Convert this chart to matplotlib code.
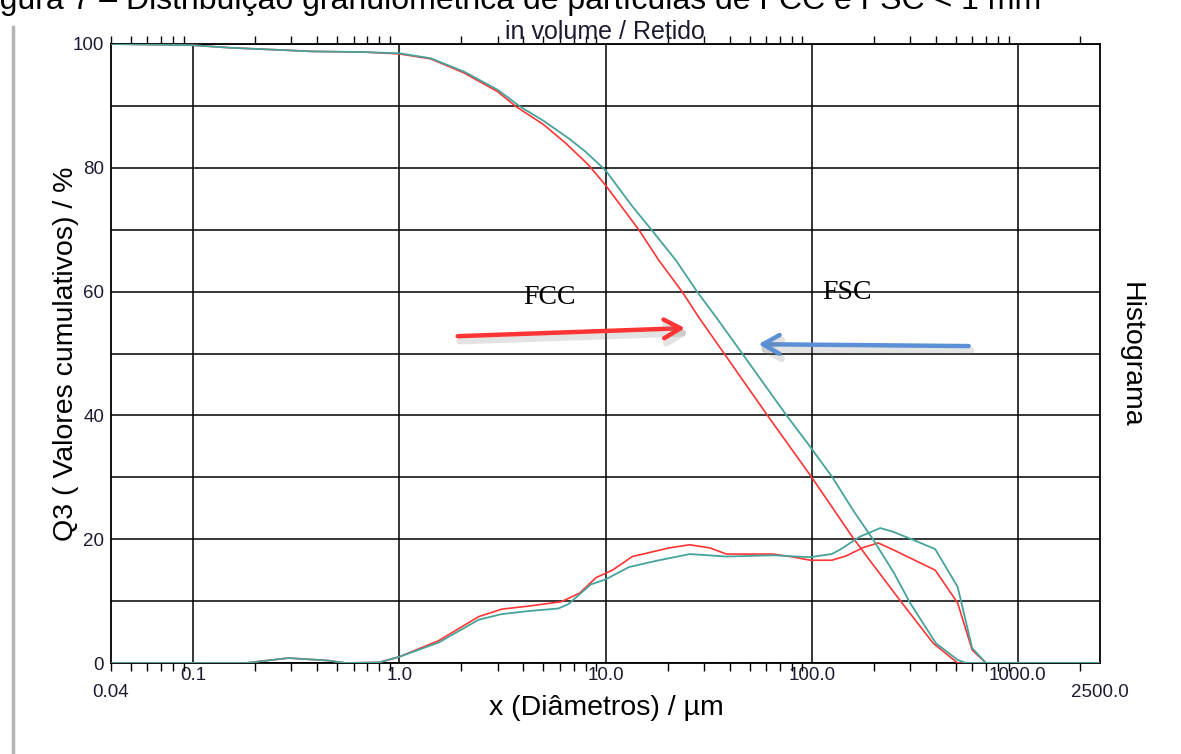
"""Distribuição granulométrica FCC x FSC (curva acumulada retida + histograma)."""

import matplotlib

matplotlib.use("Agg")
import matplotlib.pyplot as plt
import matplotlib.patheffects as pe
from matplotlib.lines import Line2D
from matplotlib.ticker import FixedLocator, LogLocator, NullFormatter
import matplotlib.transforms as mtransforms

# ---- data ------------------------------------------------------------------
cum_x_fcc = [0.04, 0.1, 0.15, 0.38, 0.67, 1.0, 1.42, 2.07, 3.0, 3.68, 5.0, 6.4,
             8.25, 10, 14.5, 18.1, 23.5, 28.4, 37.6, 61, 100, 158, 191, 274,
             388, 510, 2500]
cum_fcc = [100, 99.8, 99.4, 98.8, 98.7, 98.4, 97.6, 95.3, 92.3, 89.9, 87.0,
           84.0, 80.5, 77.2, 70.0, 65.1, 60.0, 55.8, 50.0, 40.0, 30.0, 20.3,
           16.6, 9.7, 3.2, 0, 0]

cum_x_fsc = [0.04, 0.1, 0.15, 0.38, 0.67, 1.0, 1.42, 2.07, 3.0, 3.85, 5.0, 6.6,
             8.0, 10, 13.4, 16.7, 21.9, 27.8, 34.5, 46, 75.5, 98, 126, 160, 198,
             250, 300, 400, 510, 560, 2500]
cum_fsc = [100, 99.8, 99.4, 98.8, 98.7, 98.5, 97.7, 95.5, 92.6, 89.9, 87.6,
           84.8, 82.6, 79.6, 73.9, 70.0, 65.1, 60.0, 55.8, 50.0, 40.0, 35.0,
           30.0, 24.5, 20.0, 14.6, 9.7, 3.2, 0.5, 0, 0]

hist_x_fcc = [0.04, 0.18, 0.29, 0.45, 0.55, 0.8, 1.0, 1.55, 2.43, 3.14, 4.25,
              6.1, 7.5, 9.0, 10.8, 13.5, 20.4, 25.6, 32, 38.6, 65, 82, 98.5,
              125, 147, 176, 210, 248, 397, 510, 600, 700, 2500]
hist_fcc = [0, 0, 0.8, 0.4, 0, 0.1, 1.0, 3.6, 7.5, 8.7, 9.2, 9.9, 11.3, 13.8,
            15.0, 17.2, 18.6, 19.1, 18.6, 17.6, 17.6, 17.1, 16.6, 16.6, 17.3,
            18.6, 19.4, 18.3, 15.0, 9.7, 2.1, 0, 0]

hist_x_fsc = [0.04, 0.18, 0.29, 0.45, 0.55, 0.8, 1.0, 1.55, 2.43, 3.14, 4.25,
              5.9, 6.6, 8.5, 10, 13, 17.6, 25.6, 38.6, 65, 98, 125, 137, 171,
              215, 248, 310, 397, 510, 600, 700, 2500]
hist_fsc = [0, 0, 0.8, 0.4, 0, 0.1, 1.0, 3.3, 7.0, 7.9, 8.4, 8.8, 9.5, 12.7,
            13.5, 15.5, 16.5, 17.6, 17.2, 17.4, 17.1, 17.6, 18.3, 20.4, 21.8,
            21.2, 19.9, 18.4, 12.3, 2.4, 0, 0]

x_ticks = [0.1, 1, 10, 100, 1000]
x_tick_labels = ["0.1", "1.0", "10.0", "100.0", "1000.0"]
y_ticks = [0, 20, 40, 60, 80, 100]

# annotation arrows (data coords): (start, end)
fcc_arrow = ((1.92, 52.8), (24.3, 54.1))
fsc_arrow = ((577, 51.2), (55.1, 51.5))
fcc_label = (5.33, 59.1)
fsc_label = (148, 59.8)

RED = "#ff3434"
TEAL = "#46a39c"
BLUE = "#5b8fd6"
TXT = "#1c1c30"

plt.rcParams["font.family"] = ["Liberation Sans", "DejaVu Sans"]

fig = plt.figure(figsize=(11.81, 7.54), dpi=100)
ax = fig.add_axes([111 / 1181, 91 / 754, 989 / 1181, 619 / 754])

ax.plot(cum_x_fcc, cum_fcc, color=RED, lw=1.2, zorder=3)
ax.plot(hist_x_fcc, hist_fcc, color=RED, lw=1.2, zorder=3)
ax.plot(cum_x_fsc, cum_fsc, color=TEAL, lw=1.3, zorder=4)
ax.plot(hist_x_fsc, hist_fsc, color=TEAL, lw=1.3, zorder=4)

ax.set_xscale("log")
ax.set_xlim(0.04, 2500)
ax.set_ylim(0, 100)

ax.xaxis.set_major_locator(FixedLocator(x_ticks))
ax.set_xticklabels(x_tick_labels)
ax.xaxis.set_minor_locator(LogLocator(base=10, subs=range(2, 10), numticks=20))
ax.xaxis.set_minor_formatter(NullFormatter())
ax.set_yticks(y_ticks)
ax.set_yticks(range(0, 101, 10), minor=True)

ax.grid(True, which="major", axis="x", color="black", lw=1.1)
ax.grid(True, which="both", axis="y", color="black", lw=1.1)
ax.set_axisbelow(True)

ax.tick_params(axis="x", which="major", length=0, pad=3, labelsize=13.5, labelcolor=TXT)
ax.tick_params(axis="x", which="minor", top=True, bottom=True, direction="out",
               length=5.5, width=1, color="black")
ax.tick_params(axis="y", which="both", length=0, pad=5, labelsize=13.5, labelcolor=TXT)
for s in ax.spines.values():
    s.set_linewidth(1.3)
    s.set_color("black")

# extra end labels under the axis
xtrans = mtransforms.blended_transform_factory(ax.transData, ax.transAxes)
ax.text(0.04, -0.047, "0.04", transform=xtrans, ha="center", va="center",
        fontsize=13.5, color=TXT)
ax.text(2500, -0.047, "2500.0", transform=xtrans, ha="center", va="center",
        fontsize=13.5, color=TXT)

ax.text(0.5005, -0.073, "x (Diâmetros) / µm", transform=ax.transAxes,
        ha="center", va="center", fontsize=20.5, color="black")
ax.text(-0.0455, 0.50, "Q3 ( Valores cumulativos) / %", transform=ax.transAxes,
        rotation=90, ha="center", va="center", fontsize=20.5, color="black")
ax.text(1.031, 0.4976, "Histograma", transform=ax.transAxes, rotation=-90,
        ha="center", va="center", fontsize=20.5, color="black")
ax.text(0.4995, 1.019, "in volume / Retido", transform=ax.transAxes,
        ha="center", va="center", fontsize=18, color=TXT)

# FCC / FSC labels and arrows
ax.text(*fcc_label, "FCC", family="Liberation Serif", fontsize=20,
        ha="center", va="center", zorder=6)
ax.text(*fsc_label, "FSC", family="Liberation Serif", fontsize=20,
        ha="center", va="center", zorder=6)
shadow = [pe.SimpleLineShadow(offset=(1.5, -3.5), shadow_color="gray", alpha=0.22,
                              linewidth=5),
          pe.Normal()]
for (start, end), col in ((fcc_arrow, RED), (fsc_arrow, BLUE)):
    ax.annotate("", xy=end, xytext=start,
                arrowprops=dict(arrowstyle="->, head_length=0.8, head_width=0.45",
                                color=col, lw=3.2, mutation_scale=15,
                                shrinkA=0, shrinkB=0, path_effects=shadow),
                zorder=6)

# clipped caption at the very top of the page (cut off in the source too)
fig.text(1041 / 1181, 1 - 9 / 754,
         "Figura 7 – Distribuição granulométrica de partículas de FCC e FSC < 1 mm",
         ha="right", va="baseline", fontsize=23, color="black")

# page border on the left
fig.add_artist(Line2D([13 / 1181, 13 / 1181], [0, 1 - 27 / 754],
                      transform=fig.transFigure, color="#b5b5b5", lw=2.5))

fig.savefig("out.png", dpi=100)
